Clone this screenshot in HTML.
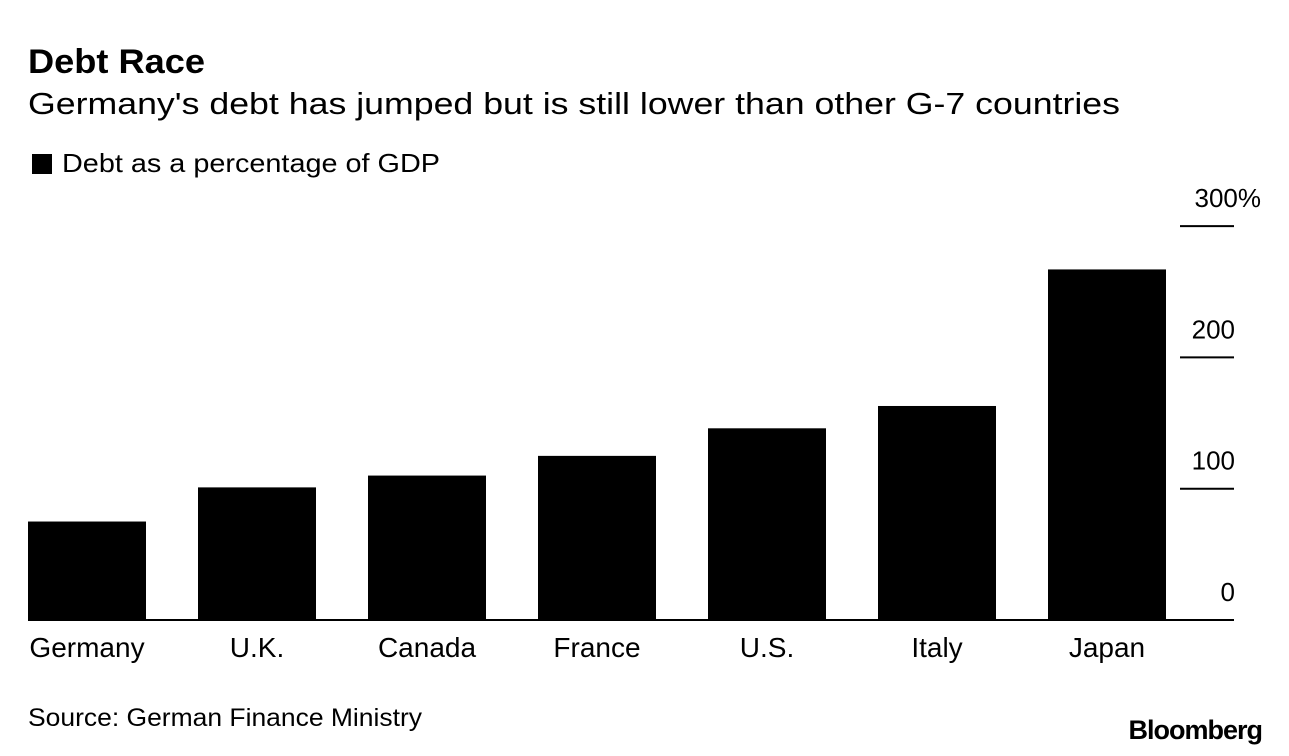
<!DOCTYPE html>
<html><head><meta charset="utf-8">
<style>
body{margin:0;background:#fff;font-family:"Liberation Sans",Arial,sans-serif;}
svg{display:block}
text{font-family:"Liberation Sans",Arial,sans-serif;fill:#000}
</style></head>
<body>
<svg id="chart" width="1289" height="756">
<text x="28" y="73" font-size="34" font-weight="bold" textLength="177" lengthAdjust="spacingAndGlyphs">Debt Race</text>
<text x="28" y="114" font-size="31" textLength="1092" lengthAdjust="spacingAndGlyphs">Germany's debt has jumped but is still lower than other G-7 countries</text>
<rect x="32" y="154" width="20" height="20" fill="#000"/>
<text x="62" y="172" font-size="26" textLength="378" lengthAdjust="spacingAndGlyphs">Debt as a percentage of GDP</text>
<g id="bars"></g>
<g id="yaxis"></g>
<g id="xaxis"></g>
<text x="28" y="726" font-size="25" textLength="394" lengthAdjust="spacingAndGlyphs">Source: German Finance Ministry</text>
<text x="1262" y="739" font-size="27" font-weight="bold" text-anchor="end" letter-spacing="-1">Bloomberg</text>
</svg>
<script>
const categories=["Germany","U.K.","Canada","France","U.S.","Italy","Japan"];
const debtValues=[75,101,110,125,146,163,267];
const tickValues=[0,100,200,300];
const tickLabels=["0","100","200","300%"];
const NS="http://www.w3.org/2000/svg";
const y0=620,pxPer=1.313;
function y(v){return y0-v*pxPer;}
function x(i){return 28+i*170;}
const bw=118;
const bars=document.getElementById('bars'),xa=document.getElementById('xaxis'),ya=document.getElementById('yaxis');
function mk(t,a){const e=document.createElementNS(NS,t);for(const k in a)e.setAttribute(k,a[k]);return e;}
categories.forEach((c,i)=>{
  const r=mk('rect',{x:x(i),y:y(debtValues[i]),width:bw,height:y0-y(debtValues[i]),fill:'#000'});
  
  
  bars.appendChild(r);
  const t=mk('text',{x:x(i)+bw/2,y:657,'font-size':28,'text-anchor':'middle'});
  t.textContent=c;
  
  
  xa.appendChild(t);
});
const base=mk('line',{x1:28,x2:1234,y1:y0,y2:y0,stroke:'#000','stroke-width':2});


xa.appendChild(base);
tickValues.forEach((v,i)=>{
  if(v>0){
    const l=mk('line',{x1:1180,x2:1234,y1:y(v),y2:y(v),stroke:'#000','stroke-width':2});
    
    
    ya.appendChild(l);
  }
  const isLast=i===tickValues.length-1;
  const t=mk('text',{x:isLast?1261:1235,y:y(v)-19,'font-size':26,'text-anchor':'end'});
  t.textContent=tickLabels[i];
  
  
  ya.appendChild(t);
});
</script>
</body></html>
